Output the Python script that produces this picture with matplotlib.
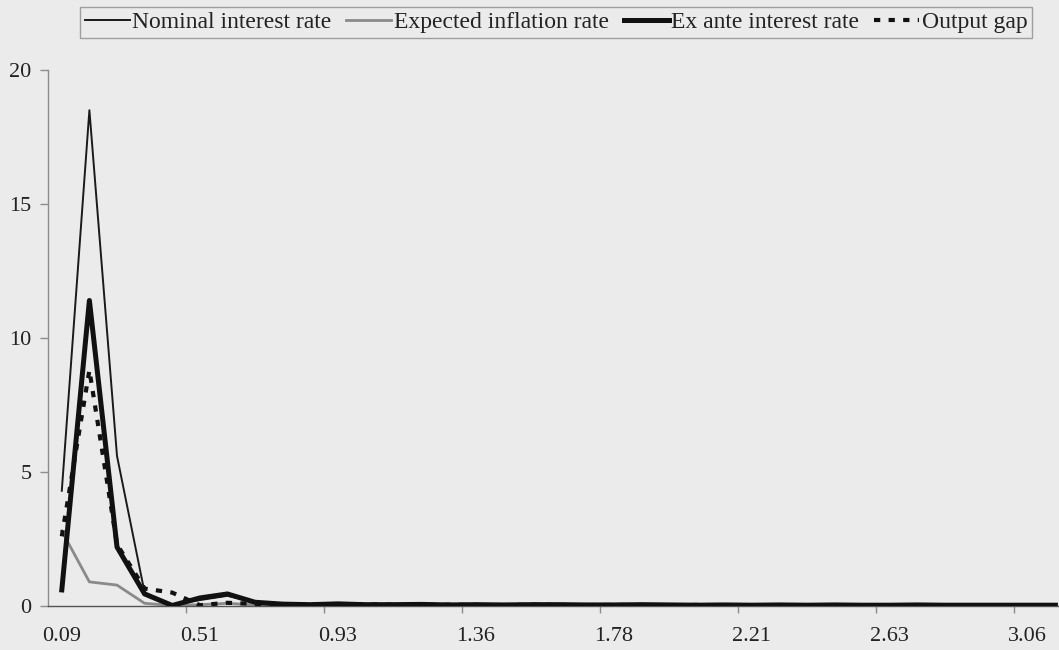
import matplotlib
matplotlib.use("Agg")
import matplotlib.pyplot as plt
import numpy as np

# Frequencies (category axis); every fifth one is labelled
tick_labels = ["0.09", "0.51", "0.93", "1.36", "1.78", "2.21", "2.63", "3.06"]
n_freq = 37

nominal = [4.3, 18.5, 5.6, 0.5, 0.05, 0.22, 0.38, 0.15, 0.08, 0.06,
           0.07, 0.05, 0.06, 0.05, 0.05, 0.04, 0.05, 0.04, 0.04, 0.05,
           0.04, 0.03, 0.04, 0.03, 0.03, 0.04, 0.03, 0.03, 0.03, 0.03,
           0.03, 0.02, 0.03, 0.02, 0.02, 0.02, 0.02]
expected = [2.8, 0.9, 0.78, 0.1, 0.02, 0.05, 0.1, 0.04, 0.02, 0.02,
            0.02, 0.02, 0.02, 0.02, 0.02, 0.01, 0.02, 0.01, 0.01, 0.01,
            0.01, 0.01, 0.01, 0.01, 0.01, 0.01, 0.01, 0.01, 0.01, 0.01,
            0.01, 0.01, 0.01, 0.01, 0.01, 0.01, 0.01]
exante = [0.6, 11.4, 2.2, 0.45, 0.02, 0.3, 0.45, 0.14, 0.07, 0.05,
          0.08, 0.05, 0.05, 0.06, 0.04, 0.05, 0.04, 0.05, 0.05, 0.04,
          0.04, 0.05, 0.04, 0.03, 0.04, 0.03, 0.04, 0.03, 0.04, 0.03,
          0.03, 0.04, 0.03, 0.03, 0.03, 0.03, 0.03]
output_gap = [2.6, 8.8, 2.3, 0.65, 0.5, 0.03, 0.12, 0.08, 0.05, 0.07,
              0.04, 0.06, 0.05, 0.04, 0.05, 0.04, 0.03, 0.05, 0.04, 0.03,
              0.04, 0.03, 0.03, 0.04, 0.03, 0.03, 0.03, 0.02, 0.03, 0.02,
              0.03, 0.02, 0.02, 0.02, 0.02, 0.02, 0.02]

bg = "#ebebeb"
W, H = 1059, 650
fig = plt.figure(figsize=(W / 100, H / 100), dpi=100, facecolor=bg)
plt.rcParams["font.family"] = ["Liberation Serif", "DejaVu Serif"]

# plot area: left edge at x=48 px, 27.6 px per category, zero line at y=606, 20 at y=70
cat_w = 27.6
left, bottom, top = 48, 606, 70
ax = fig.add_axes([left / W, (H - bottom) / H, n_freq * cat_w / W, (bottom - top) / H])
ax.set_facecolor(bg)

x = np.arange(n_freq)
ax.plot(x, nominal, color="#1a1a1a", lw=1.4, label="Nominal interest rate", zorder=3)
ax.plot(x, expected, color="#8a8a8a", lw=2.0, label="Expected inflation rate", zorder=2)
ax.plot(x, exante, color="#111111", lw=3.6, label="Ex ante interest rate", zorder=4)
ax.plot(x, output_gap, color="#111111", lw=3.0, ls=(0, (1.5, 2.0)),
        label="Output gap", zorder=5)

ax.set_xlim(-0.5, n_freq - 0.5)
ax.set_ylim(0, 20)

for s in ["top", "right"]:
    ax.spines[s].set_visible(False)
ax.spines["left"].set_color("#8c8c8c")
ax.spines["left"].set_linewidth(1.0)
ax.spines["bottom"].set_color("#555555")
ax.spines["bottom"].set_linewidth(1.0)

ax.set_yticks([0, 5, 10, 15, 20])
ax.tick_params(axis="y", direction="out", length=6, width=1.0, color="#8c8c8c",
               labelsize=16, pad=6, labelcolor="#222222")

label_pos = np.arange(0, n_freq, 5)
ax.set_xticks(label_pos)
ax.set_xticklabels(tick_labels)
ax.set_xticks(np.arange(4.5, n_freq, 5), minor=True)
ax.tick_params(axis="x", which="major", length=0, labelsize=16, pad=15,
               labelcolor="#222222")
ax.tick_params(axis="x", which="minor", direction="out", length=5, width=1.0,
               color="#8c8c8c")

leg = fig.legend(loc="upper left", bbox_to_anchor=(80 / W, 1 - 7 / H), ncol=4,
                 frameon=True, fancybox=False, fontsize=17, handlelength=1.9,
                 handletextpad=0.12, columnspacing=0.62, borderpad=0.2,
                 borderaxespad=0)
leg.get_frame().set_edgecolor("#8c8c8c")
leg.get_frame().set_facecolor(bg)
leg.get_frame().set_linewidth(1.0)
for t in leg.get_texts():
    t.set_color("#222222")

fig.savefig("out.png", dpi=100, facecolor=bg)
